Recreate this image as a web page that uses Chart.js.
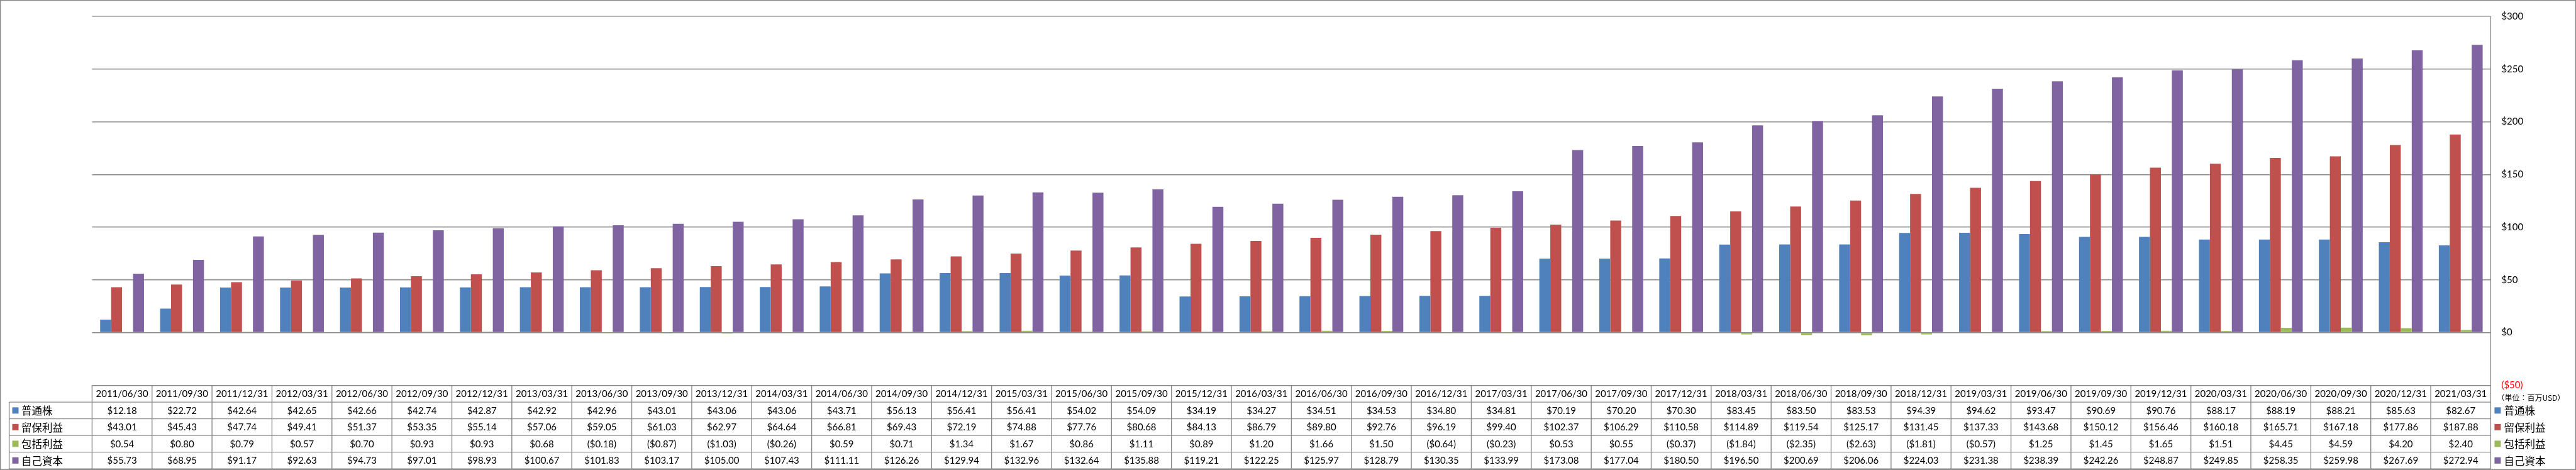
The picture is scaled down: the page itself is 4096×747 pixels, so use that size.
<!DOCTYPE html>
<html>
<head>
<meta charset="utf-8">
<script src="https://cdn.jsdelivr.net/npm/chart.js@4/dist/chart.umd.min.js"></script>
<style>
  html, body { margin: 0; padding: 0; background: #fff; }
  canvas { display: block; }
</style>
</head>
<body>
<canvas id="myChart" width="4096" height="747"></canvas>
<script>
const labels = [
  '2011/06/30', '2011/09/30', '2011/12/31', '2012/03/31', '2012/06/30', '2012/09/30', '2012/12/31', '2013/03/31',
  '2013/06/30', '2013/09/30', '2013/12/31', '2014/03/31', '2014/06/30', '2014/09/30', '2014/12/31', '2015/03/31',
  '2015/06/30', '2015/09/30', '2015/12/31', '2016/03/31', '2016/06/30', '2016/09/30', '2016/12/31', '2017/03/31',
  '2017/06/30', '2017/09/30', '2017/12/31', '2018/03/31', '2018/06/30', '2018/09/30', '2018/12/31', '2019/03/31',
  '2019/06/30', '2019/09/30', '2019/12/31', '2020/03/31', '2020/06/30', '2020/09/30', '2020/12/31', '2021/03/31'
];

// 普通株
const commonStock = [
  12.18, 22.72, 42.64, 42.65, 42.66, 42.74, 42.87, 42.92, 42.96, 43.01,
  43.06, 43.06, 43.71, 56.13, 56.41, 56.41, 54.02, 54.09, 34.19, 34.27,
  34.51, 34.53, 34.80, 34.81, 70.19, 70.20, 70.30, 83.45, 83.50, 83.53,
  94.39, 94.62, 93.47, 90.69, 90.76, 88.17, 88.19, 88.21, 85.63, 82.67
];

// 留保利益
const retainedEarnings = [
  43.01, 45.43, 47.74, 49.41, 51.37, 53.35, 55.14, 57.06, 59.05, 61.03,
  62.97, 64.64, 66.81, 69.43, 72.19, 74.88, 77.76, 80.68, 84.13, 86.79,
  89.80, 92.76, 96.19, 99.40, 102.37, 106.29, 110.58, 114.89, 119.54, 125.17,
  131.45, 137.33, 143.68, 150.12, 156.46, 160.18, 165.71, 167.18, 177.86, 187.88
];

// 包括利益
const comprehensiveIncome = [
  0.54, 0.80, 0.79, 0.57, 0.70, 0.93, 0.93, 0.68, -0.18, -0.87,
  -1.03, -0.26, 0.59, 0.71, 1.34, 1.67, 0.86, 1.11, 0.89, 1.20,
  1.66, 1.50, -0.64, -0.23, 0.53, 0.55, -0.37, -1.84, -2.35, -2.63,
  -1.81, -0.57, 1.25, 1.45, 1.65, 1.51, 4.45, 4.59, 4.20, 2.40
];

// 自己資本
const equity = [
  55.73, 68.95, 91.17, 92.63, 94.73, 97.01, 98.93, 100.67, 101.83, 103.17,
  105.00, 107.43, 111.11, 126.26, 129.94, 132.96, 132.64, 135.88, 119.21, 122.25,
  125.97, 128.79, 130.35, 133.99, 173.08, 177.04, 180.50, 196.50, 200.69, 206.06,
  224.03, 231.38, 238.39, 242.26, 248.87, 249.85, 258.35, 259.98, 267.69, 272.94
];

const seriesNames = ['普通株', '留保利益', '包括利益', '自己資本'];
const seriesData = [commonStock, retainedEarnings, comprehensiveIncome, equity];
const colors = ['#4F81BD', '#C0504D', '#9BBB59', '#8064A2'];
const unitLabel = '（単位：百万USD）';

const numFont = '15px Lato';
const jpFont = '16.5px "Noto Sans CJK JP"';
const lineColor = '#8A8A8A';

const money = v => v < 0 ? `($${(-v).toFixed(2)})` : `$${v.toFixed(2)}`;

// data table + legend drawn under the plot, columns follow the x scale
const dataTable = {
  id: 'dataTable',
  afterDraw(chart) {
    const {ctx, chartArea: area, scales: {x}} = chart;
    const colW = (area.right - area.left) / labels.length;
    const top = area.bottom;
    const headerH = 26.9;
    const rowH = 26.5;
    const bottom = top + headerH + rowH * 4;
    const tableLeft = 14.6;

    ctx.save();
    ctx.strokeStyle = lineColor;
    ctx.lineWidth = 1.4;

    // outer frame
    ctx.strokeRect(0.7, 0.7, chart.width - 1.4, chart.height - 1.4);

    ctx.beginPath();
    // right edge of plot, running down through the table
    ctx.moveTo(area.right, area.top);
    ctx.lineTo(area.right, bottom);
    for (let r = 0; r <= 4; r++) {
      const y = top + headerH + r * rowH;
      ctx.moveTo(tableLeft, y);
      ctx.lineTo(area.right, y);
    }
    ctx.moveTo(tableLeft, top + headerH);
    ctx.lineTo(tableLeft, bottom);
    for (let k = 0; k < labels.length; k++) {
      const xx = area.left + k * colW;
      ctx.moveTo(xx, top);
      ctx.lineTo(xx, bottom);
    }
    ctx.stroke();

    ctx.fillStyle = '#000';
    ctx.textAlign = 'center';
    ctx.textBaseline = 'middle';
    ctx.font = numFont;
    labels.forEach((lab, i) => {
      const cx = x.getPixelForValue(i);
      ctx.fillText(lab, cx, top + headerH / 2 + 0.5);
      seriesData.forEach((arr, r) => {
        ctx.fillText(money(arr[i]), cx, top + headerH + r * rowH + rowH / 2 + 0.5);
      });
    });

    // row headers and right-side legend
    ctx.textAlign = 'left';
    seriesNames.forEach((name, r) => {
      const cy = top + headerH + r * rowH + rowH / 2;
      ctx.fillStyle = colors[r];
      ctx.fillRect(19.5, cy - 5, 10, 10);
      ctx.fillRect(area.right + 6, cy - 5, 10, 10);
      ctx.fillStyle = '#000';
      ctx.font = jpFont;
      ctx.fillText(name, 34, cy + 0.5);
      ctx.fillText(name, area.right + 21, cy + 0.5);
    });

    ctx.font = '12px "Noto Sans CJK JP"';
    ctx.fillText(unitLabel, area.right + 10, top + 20);
    ctx.restore();
  }
};

const ctx = document.getElementById('myChart');
const config = {
  type: 'bar',
  data: {
    labels,
    datasets: seriesNames.map((name, i) => ({
      label: name,
      data: seriesData[i],
      backgroundColor: colors[i],
      borderWidth: 0
    }))
  },
  options: {
    responsive: false,
    animation: false,
    layout: {
      padding: {left: 146.4, top: 10.45, right: 0, bottom: 134.8}
    },
    datasets: {
      bar: {categoryPercentage: 0.731, barPercentage: 1.0}
    },
    scales: {
      x: {display: false},
      y: {
        position: 'right',
        min: -50,
        max: 300,
        afterFit: scale => { scale.width = 135.6; },
        border: {display: false},
        grid: {color: lineColor, lineWidth: 1.4, drawTicks: false},
        ticks: {
          stepSize: 50,
          padding: 17,
          font: {family: 'Lato', size: 15},
          color: c => c.tick.value < 0 ? '#FF0000' : '#000000',
          callback: v => v < 0 ? `($${-v})` : `$${v}`
        }
      }
    },
    plugins: {
      legend: {display: false},
      tooltip: {enabled: false}
    }
  },
  plugins: [dataTable]
};

new Chart(ctx, config);
</script>
</body>
</html>
